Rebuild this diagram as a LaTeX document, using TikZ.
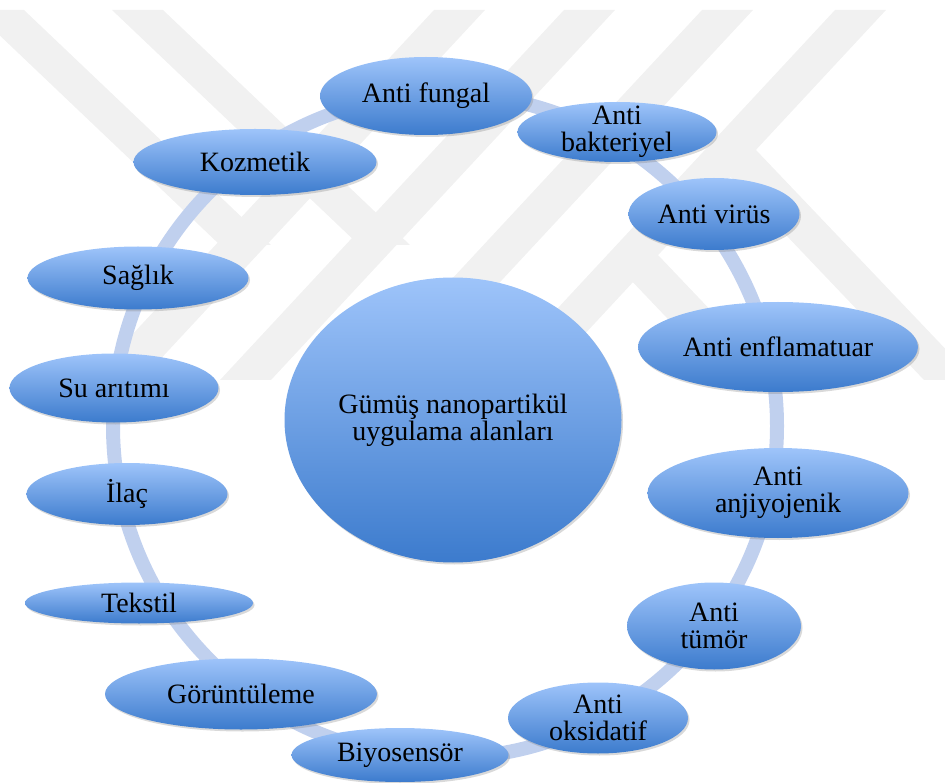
\documentclass[tikz,border=0pt]{standalone}
\usepackage{tikz}
\usetikzlibrary{shapes.geometric, shadows}
\usepackage{xcolor}
\usepackage{fontspec}
\setmainfont{Liberation Serif}
\newfontfamily\bubblefont{Liberation Serif}

\definecolor{bubbletop}{RGB}{158,196,250}
\definecolor{bubblebot}{RGB}{60,123,205}
\definecolor{ringblue}{RGB}{192,208,238}
\definecolor{markgray}{RGB}{241,241,241}

\begin{document}
\begin{tikzpicture}[x=1pt, y=-1pt,
    % Ellipse bubbles with a vertical blue gradient
    bubble/.style={ellipse, inner sep=-8pt, outer sep=0pt, draw=none,
      top color=bubbletop, bottom color=bubblebot,
      drop shadow={shadow xshift=1.5pt, shadow yshift=-2pt, opacity=0.3},
      font=\bubblefont\fontsize{28}{27}\selectfont, align=center, text=black},
    % Thick pale ring behind the bubbles
    ring/.style={draw=ringblue, line width=14pt},
    % Faint stripes in the background
    stripe/.style={fill=markgray, draw=none}
  ]
  \useasboundingbox (0,0) rectangle (945,783);

  % --- Background stripes ---
  \begin{scope}
    \clip (0,0) rectangle (945,783);
    \def\Bw{51}   % horizontal width of a stripe
    \def\Top{10}  % upper cut of the stripes
    \def\Bot{380} % lower cut of the stripes
    % rising stripes
    \foreach \xa in {434,564,702,835} {
      \fill[stripe] (\xa,\Top) -- (\xa+\Bw,\Top) -- (\xa+\Bw-344,\Bot) -- (\xa-344,\Bot) -- cycle;
    }
    % falling stripes on the left
    \fill[stripe] (-27,\Top) -- (-27+\Bw,\Top) -- (271,245) -- (220,245) -- cycle;
    \fill[stripe] (112,\Top) -- (112+\Bw,\Top) -- (410,245) -- (359,245) -- cycle;
    % falling stripes on the right
    \fill[stripe] (705,150) -- (705+\Bw,150) -- (975,\Bot) -- (924,\Bot) -- cycle;
    \fill[stripe] (607,255) -- (607+\Bw,255) -- (777,\Bot) -- (726,\Bot) -- cycle;
  \end{scope}

  % --- Ring ---
  \coordinate (ringc) at (445,426);
  \draw[ring] (ringc) circle [radius=332pt];

  % --- Centre ---
  \node[bubble, minimum width=337, minimum height=285] (hub) at (453,420) {Gümüş nanopartikül\\uygulama alanları};

  % --- Bubbles round the ring ---
  \node[bubble, minimum width=212, minimum height=78] (fungal) at (426,96) {Anti fungal};
  \node[bubble, minimum width=199, minimum height=60] (bakteri) at (617,132) {Anti\\bakteriyel};
  \node[bubble, minimum width=171, minimum height=72] (virus) at (714,214) {Anti virüs};
  \node[bubble, minimum width=280, minimum height=90] (enflam) at (778,347) {Anti enflamatuar};
  \node[bubble, minimum width=261, minimum height=90] (anjiyo) at (778,493) {Anti\\anjiyojenik};
  \node[bubble, minimum width=174, minimum height=87] (tumor) at (714,626) {Anti\\tümör};
  \node[bubble, minimum width=180, minimum height=71] (oksid) at (598,718) {Anti\\oksidatif};
  \node[bubble, minimum width=217, minimum height=54] (biyo) at (400,755) {Biyosensör};
  \node[bubble, minimum width=272, minimum height=71] (goruntu) at (241,694) {Görüntüleme};
  \node[bubble, minimum width=228, minimum height=41] (tekstil) at (139,603) {Tekstil};
  \node[bubble, minimum width=201, minimum height=62] (ilac) at (127,494) {İlaç};
  \node[bubble, minimum width=209, minimum height=69] (su) at (114,388) {Su arıtımı};
  \node[bubble, minimum width=221, minimum height=63] (saglik) at (138,278) {Sağlık};
  \node[bubble, minimum width=243, minimum height=66] (kozmetik) at (255,162) {Kozmetik};

\end{tikzpicture}
\end{document}
